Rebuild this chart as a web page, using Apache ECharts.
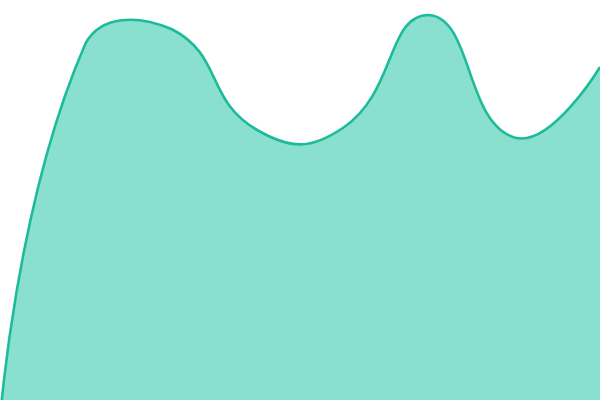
<!DOCTYPE html>
<html>
<head>
<meta charset="utf-8">
<script src="https://cdn.jsdelivr.net/npm/echarts@6/dist/echarts.min.js"></script>
<style>html,body{margin:0;padding:0;background:#fff}#c{width:600px;height:400px}</style>
</head>
<body>
<div id="c"></div>
<script>
const categories = ['A', 'B', 'C', 'D', 'E', 'F', 'G', 'H'];
const values = [-20, 357, 371, 270, 272, 385, 262.5, 333];
const yMin = 0;
const yMax = 400;

// Classic ECharts line smoothing: control points clamped to the points' bounding box
function smoothPath(pts, smooth) {
  const min = [Infinity, Infinity], max = [-Infinity, -Infinity];
  pts.forEach(p => {
    min[0] = Math.min(min[0], p[0]); min[1] = Math.min(min[1], p[1]);
    max[0] = Math.max(max[0], p[0]); max[1] = Math.max(max[1], p[1]);
  });
  const clamp = c => [Math.min(Math.max(c[0], min[0]), max[0]), Math.min(Math.max(c[1], min[1]), max[1])];
  const dist = (a, b) => Math.hypot(a[0] - b[0], a[1] - b[1]);
  let d = 'M' + pts[0][0] + ',' + pts[0][1];
  let cp0 = pts[0].slice();
  for (let i = 1; i < pts.length; i++) {
    const p = pts[i], prev = pts[i - 1], next = pts[i + 1];
    let cp1, ratio = 0.5, v = [0, 0];
    if (!next) {
      cp1 = p.slice();
    } else {
      v = [next[0] - prev[0], next[1] - prev[1]];
      const l0 = dist(p, prev), l1 = dist(p, next);
      ratio = l1 / (l0 + l1);
      cp1 = [p[0] - v[0] * smooth * (1 - ratio), p[1] - v[1] * smooth * (1 - ratio)];
    }
    const a = clamp(cp0), b = clamp(cp1);
    d += ' C' + a[0] + ',' + a[1] + ' ' + b[0] + ',' + b[1] + ' ' + p[0] + ',' + p[1];
    cp0 = [p[0] + v[0] * smooth * ratio, p[1] + v[1] * smooth * ratio];
  }
  return d;
}

const chart = echarts.init(document.getElementById('c'));
chart.setOption({
  animation: false,
  grid: { left: 0, right: 0, top: 0, bottom: 0 },
  xAxis: { type: 'category', data: categories, boundaryGap: false, show: false },
  yAxis: { type: 'value', min: yMin, max: yMax, show: false },
  series: [{
    type: 'custom',
    coordinateSystem: 'cartesian2d',
    data: [[0, 0]],
    encode: { x: 0, y: 1 },
    renderItem: function (params, api) {
      const pts = values.map((v, i) => api.coord([i, v]));
      const base = api.coord([0, yMin])[1];
      const top = smoothPath(pts, 0.5);
      const last = pts[pts.length - 1];
      const area = top + ' L' + last[0] + ',' + base + ' L' + pts[0][0] + ',' + base + ' Z';
      return {
        type: 'group',
        children: [
          { type: 'path', shape: { pathData: area }, style: { fill: '#8ae0cf', stroke: null } },
          { type: 'path', shape: { pathData: top }, style: { fill: 'none', stroke: '#1dbb9a', lineWidth: 2.6 } }
        ]
      };
    }
  }]
});
</script>
</body>
</html>
